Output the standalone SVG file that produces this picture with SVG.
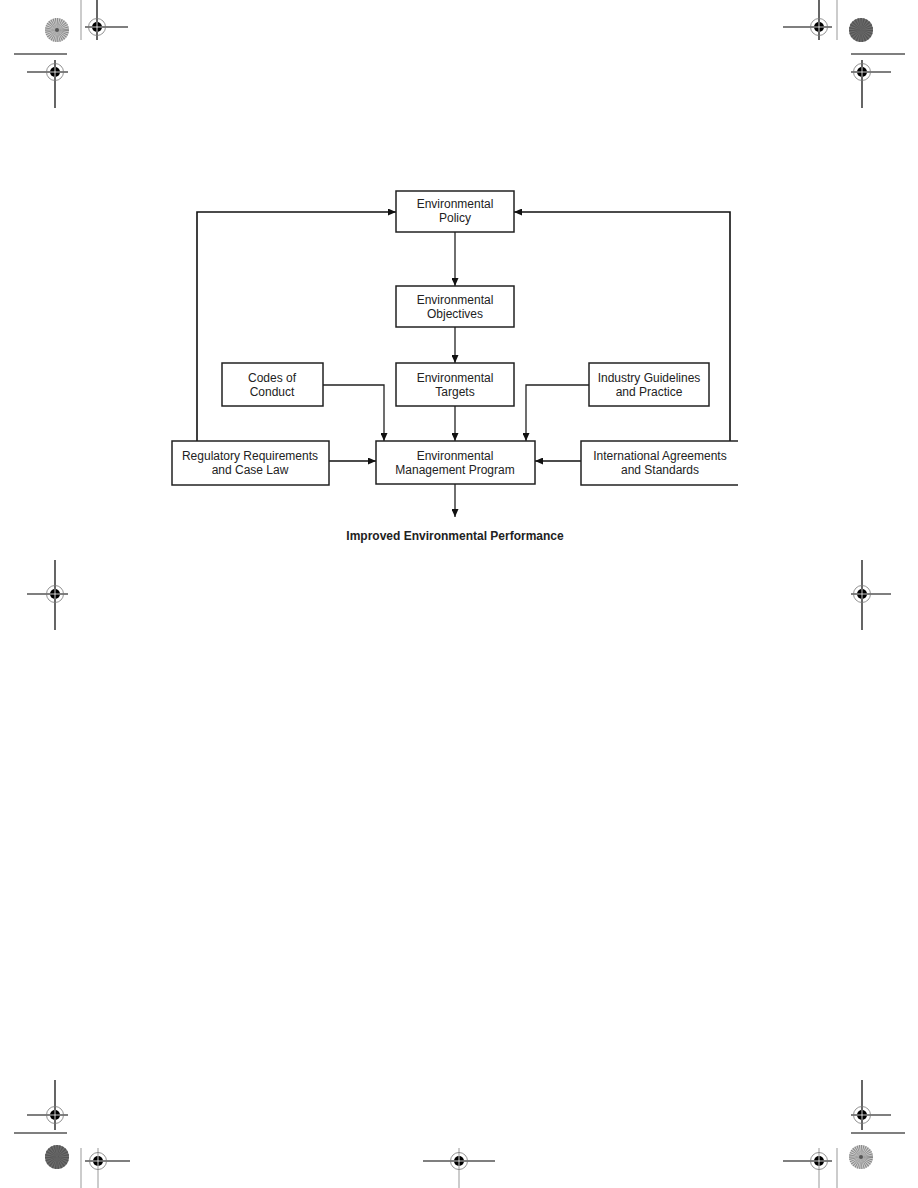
<svg xmlns="http://www.w3.org/2000/svg" width="918" height="1188" viewBox="0 0 918 1188">
<style>
.box{fill:#fff;stroke:#222;stroke-width:1.5}
.t{font-family:"Liberation Sans",Arial,sans-serif;font-size:12px;fill:#222;text-anchor:middle}
.tb{font-family:"Liberation Sans",Arial,sans-serif;font-size:12px;font-weight:bold;fill:#222;text-anchor:middle}
.c{fill:none;stroke:#222;stroke-width:1.3}
.fb{fill:none;stroke:#111;stroke-width:1.6}
.k{stroke:#000;stroke-width:1.2;fill:none}
.g{stroke:#999;stroke-width:1;fill:none}
</style>
<defs>
<marker id="ah" markerUnits="userSpaceOnUse" markerWidth="8" markerHeight="7" refX="8" refY="3.5" orient="auto">
<path d="M0,0 L8,3.5 L0,7 z" fill="#111"/>
</marker>
<g id="reg">
<circle r="8.5" fill="none" stroke="#777" stroke-width="0.8"/>
<circle r="5" fill="#000"/>
<path d="M-5,0 H5 M0,-5 V5" stroke="#fff" stroke-width="0.8"/>
</g>
<g id="sunL">
<circle r="12" fill="#d0d0d0"/>
<circle r="6" fill="none" stroke="#888" stroke-width="12" stroke-dasharray="0.6 0.6"/>
<circle r="2" fill="#555"/>
</g>
<g id="sunD">
<circle r="12" fill="#6e6e6e"/>
<circle r="6" fill="none" stroke="#555" stroke-width="12" stroke-dasharray="0.8 0.8"/>
</g>
</defs>
<rect width="918" height="1188" fill="#fff"/>

<g id="printer-marks">
<path class="g" d="M81,0 V40"/>
<use href="#sunL" x="57" y="30"/>
<path class="k" d="M97,0 V40 M85,27 H128"/>
<use href="#reg" x="97" y="27"/>
<path class="k" d="M14,54 H67"/>
<path class="k" d="M27,72 H68 M55,60 V108"/>
<use href="#reg" x="55" y="72"/>
<path class="k" d="M819,0 V40 M783,27 H832"/>
<use href="#reg" x="819" y="27"/>
<path class="g" d="M837,0 V40"/>
<use href="#sunD" x="861" y="30"/>
<path class="k" d="M851,54 H905"/>
<path class="k" d="M851,72 H891 M862,60 V108"/>
<use href="#reg" x="862" y="72"/>
<path class="k" d="M27,594 H68 M55,560 V630"/>
<use href="#reg" x="55" y="594"/>
<path class="k" d="M851,594 H891 M862,560 V630"/>
<use href="#reg" x="862" y="594"/>
<path class="k" d="M27,1115 H68 M55,1080 V1130"/>
<use href="#reg" x="55" y="1115"/>
<path class="k" d="M14,1133 H67"/>
<use href="#sunD" x="57" y="1157"/>
<path class="g" d="M81,1148 V1188 M98,1148 V1188"/>
<path class="k" d="M85,1161 H130"/>
<use href="#reg" x="98" y="1161"/>
<path class="g" d="M459,1148 V1188"/>
<path class="k" d="M423,1161 H495"/>
<use href="#reg" x="459" y="1161"/>
<path class="k" d="M851,1115 H891 M862,1080 V1130"/>
<use href="#reg" x="862" y="1115"/>
<path class="k" d="M851,1133 H905"/>
<path class="g" d="M819,1148 V1188 M837,1148 V1188"/>
<path class="k" d="M783,1161 H832"/>
<use href="#reg" x="819" y="1161"/>
<use href="#sunL" x="861" y="1157"/>
</g>

<g id="connectors">
<path class="c" d="M455,232 V286" marker-end="url(#ah)"/>
<path class="c" d="M455,327 V363" marker-end="url(#ah)"/>
<path class="c" d="M455,406 V441" marker-end="url(#ah)"/>
<path class="c" d="M455,484 V517" marker-end="url(#ah)"/>
<path class="c" d="M323,385 H384 V441" marker-end="url(#ah)"/>
<path class="c" d="M589,385 H526 V441" marker-end="url(#ah)"/>
<path class="fb" d="M329,461 H376" marker-end="url(#ah)"/>
<path class="fb" d="M581,461 H535" marker-end="url(#ah)"/>
<path class="fb" d="M197,441 V212 H396" marker-end="url(#ah)"/>
<path class="fb" d="M730,441 V212 H514" marker-end="url(#ah)"/>
</g>

<g id="policy">
<rect class="box" x="396" y="191" width="118" height="41"/>
<text class="t" x="455" y="208">Environmental</text>
<text class="t" x="455" y="222">Policy</text>
</g>
<g id="objectives">
<rect class="box" x="396" y="286" width="118" height="41"/>
<text class="t" x="455" y="304">Environmental</text>
<text class="t" x="455" y="318">Objectives</text>
</g>
<g id="targets">
<rect class="box" x="396" y="363" width="118" height="43"/>
<text class="t" x="455" y="382">Environmental</text>
<text class="t" x="455" y="396">Targets</text>
</g>
<g id="codes">
<rect class="box" x="222" y="363" width="101" height="43"/>
<text class="t" x="272" y="382">Codes of</text>
<text class="t" x="272" y="396">Conduct</text>
</g>
<g id="industry">
<rect class="box" x="589" y="363" width="120" height="43"/>
<text class="t" x="649" y="382">Industry Guidelines</text>
<text class="t" x="649" y="396">and Practice</text>
</g>
<g id="emp">
<rect class="box" x="376" y="441" width="159" height="43"/>
<text class="t" x="455" y="460">Environmental</text>
<text class="t" x="455" y="474">Management Program</text>
</g>
<g id="regulatory">
<rect class="box" x="172" y="441" width="157" height="44"/>
<text class="t" x="250" y="460">Regulatory Requirements</text>
<text class="t" x="250" y="474">and Case Law</text>
</g>
<g id="international">
<path class="box" d="M738,441 H581 V485 H738"/>
<text class="t" x="660" y="460">International Agreements</text>
<text class="t" x="660" y="474">and Standards</text>
</g>
<g id="output">
<text class="tb" x="455" y="540">Improved Environmental Performance</text>
</g>
</svg>
